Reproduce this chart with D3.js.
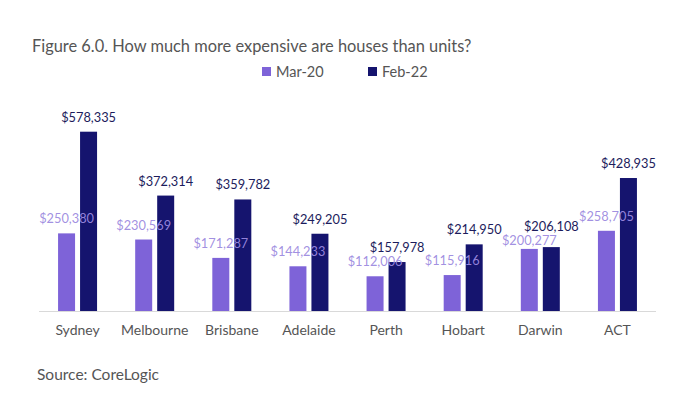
<!DOCTYPE html>
<html><head><meta charset="utf-8">
<script src="https://cdn.jsdelivr.net/npm/d3@7"></script>
<style>body{margin:0;background:#fff;} svg{display:block;font-family:"Source Sans Pro","Lato","Noto Sans",sans-serif;}</style>
</head><body>
<script>
const categories = ["Sydney","Melbourne","Brisbane","Adelaide","Perth","Hobart","Darwin","ACT"];
const seriesNames = ["Mar-20","Feb-22"];
const mar20 = [250380,230569,171287,144233,112006,115916,200277,258705];
const feb22 = [578335,372314,359782,249205,157978,214950,206108,428935];
const colors = ["#7e63d8","#15146e"];
const labelColors = ["#9c8ae0","#1c1c5c"];

const W=687,H=414;
const svg=d3.select("body").append("svg").attr("width",W).attr("height",H);
const x=d3.scaleBand().domain(categories).range([39,656]);
const y=d3.scaleLinear().domain([0,578335]).range([311,131.7]);
const bw=17, offs=[-19.5,2.5];

svg.append("text").attr("x",32).attr("y",52).attr("font-size",16.4).attr("fill","#555")
  .text("Figure 6.0. How much more expensive are houses than units?");

// legend
const legX=[262,368];
seriesNames.forEach((s,i)=>{
  svg.append("rect").attr("x",legX[i]).attr("y",67).attr("width",9).attr("height",9).attr("fill",colors[i]);
  svg.append("text").attr("x",legX[i]+14).attr("y",76.5).attr("font-size",14.5).attr("fill","#555").text(s);
});

// axis line
svg.append("line").attr("x1",39).attr("x2",656).attr("y1",311.5).attr("y2",311.5).attr("stroke","#d9d9d9").attr("stroke-width",1.2);

const data=[mar20,feb22];
const fmt=d3.format("$,");
data.forEach((vals,si)=>{
  svg.append("g").selectAll("rect").data(vals).join("rect")
    .attr("x",(d,i)=>x(categories[i])+x.bandwidth()/2+offs[si])
    .attr("y",d=>y(d)).attr("width",bw).attr("height",d=>y(0)-y(d))
    .attr("fill",colors[si]);
});
// label positions with simple vertical collision avoidance
const labelY = categories.map((c,i)=>{
  let a=y(mar20[i])-10, b=y(feb22[i])-10;
  if (Math.abs(a-b)<14){ const m=(a+b)/2; b=m-7; a=m+7; }
  return [a,b];
});
data.forEach((vals,si)=>{
  svg.append("g").selectAll("text").data(vals).join("text")
    .attr("x",(d,i)=>x(categories[i])+x.bandwidth()/2+offs[si]+bw/2)
    .attr("y",(d,i)=>labelY[i][si]).attr("text-anchor","middle").attr("font-size",12.8)
    .attr("fill",labelColors[si]).attr("fill-opacity",si===0?0.95:1)
    .text(d=>fmt(d));
});

// category labels
const xAxis=d3.axisBottom(x).tickSize(0).tickPadding(0);
const ax=svg.append("g").attr("transform","translate(0,311)").call(xAxis);
ax.select(".domain").remove();
ax.selectAll("text").attr("dy",0).attr("y",24).attr("font-size",14).attr("fill","#555")
  .attr("font-family","\"Source Sans Pro\",\"Lato\",\"Noto Sans\",sans-serif");

svg.append("text").attr("x",37).attr("y",380).attr("font-size",15.5).attr("fill","#555").text("Source: CoreLogic");
</script>
</body></html>
